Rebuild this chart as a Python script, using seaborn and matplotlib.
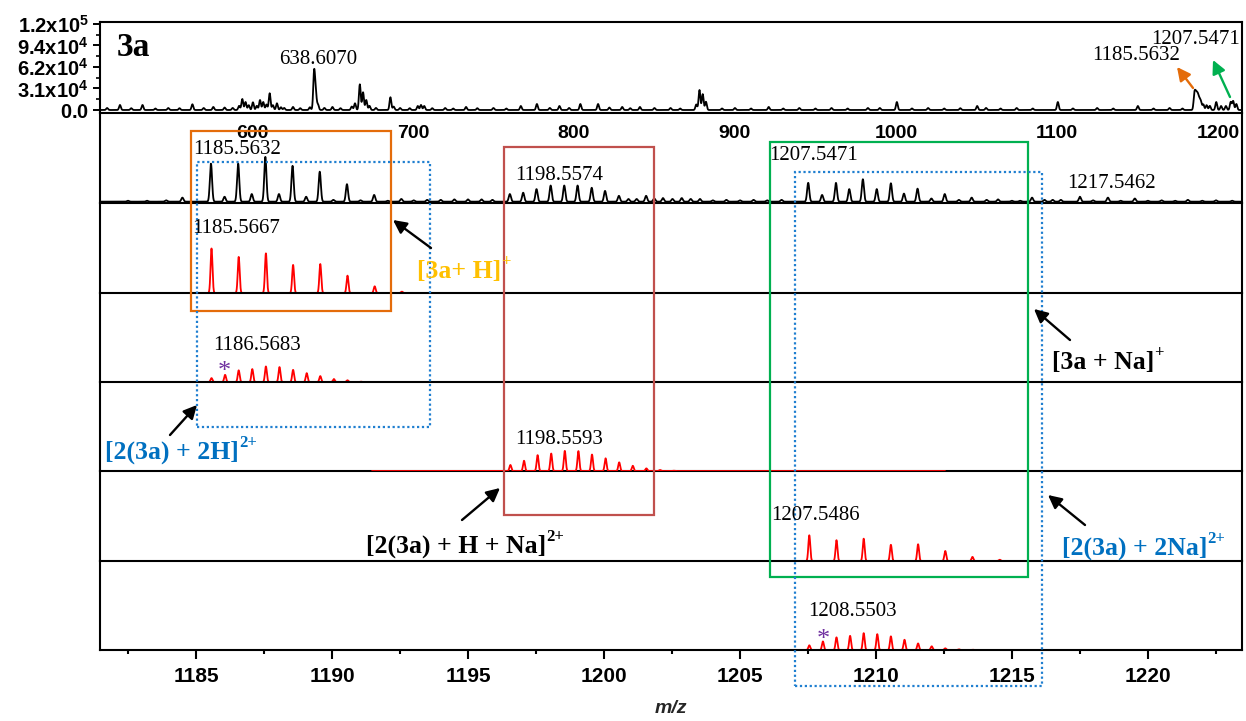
import numpy as np
import pandas as pd
import matplotlib
matplotlib.use("Agg")
import matplotlib.pyplot as plt
import seaborn as sns
from matplotlib.patches import Rectangle
from matplotlib.text import Annotation
from matplotlib.transforms import blended_transform_factory
from matplotlib.ticker import MultipleLocator, AutoMinorLocator, FixedLocator, FixedFormatter

# ---------------- data ----------------
# full-range spectrum (m/z, counts)
full_mz = [510, 518, 525, 532, 540, 548, 555, 563, 570, 576, 583, 588, 592, 594, 596, 598,
           600.6, 603, 605, 607, 609, 611, 613, 615.5, 618, 620, 625.5, 630, 636, 638.6,
           639.6, 641, 645, 650, 655, 662, 664, 667, 669, 671, 673, 677, 686, 688, 692,
           698, 703, 705, 707, 712, 720, 725, 733, 740, 750, 758, 767, 777, 785, 791, 797,
           804, 815, 822, 830, 835, 841, 850, 860, 866, 876, 878, 880, 882, 892, 900, 910,
           921, 930, 940, 950, 960, 970, 982.6, 990, 1000.6, 1010, 1020, 1030, 1040,
           1050.5, 1056, 1065, 1075, 1085, 1100.6, 1110, 1125, 1135, 1150.3, 1160, 1170,
           1178, 1185.5, 1186.5, 1187.5, 1188.5, 1189.5, 1191, 1193, 1195, 1199, 1202,
           1205, 1208, 1209.5, 1211.5]
full_int = [2900, 7300, 2600, 7300, 2200, 2900, 2600, 8300, 2900, 4400, 3600, 3000, 6000,
            16000, 11600, 7000, 11200, 6000, 14500, 11600, 8000, 24300, 7000, 9700, 4000,
            3000, 4400, 2600, 4000, 54300, 24700, 8000, 3000, 4400, 2600, 5000, 9700, 37300,
            25700, 14500, 6000, 3000, 18500, 5000, 2900, 2600, 5800, 7300, 5800, 2600, 2900,
            2200, 4400, 2600, 2900, 2200, 5800, 8700, 3000, 5800, 3000, 8700, 8700, 3600,
            4400, 2600, 4400, 2900, 2900, 2200, 8000, 29000, 23000, 12000, 2200, 2900, 2200,
            4400, 2200, 2900, 2200, 2900, 2200, 2900, 2900, 11600, 2200, 2900, 2200, 2600,
            5800, 3000, 2200, 2900, 2200, 11600, 2200, 2900, 2200, 5800, 2200, 2900, 2200,
            23700, 20000, 19000, 13000, 11000, 8000, 7000, 6000, 11600, 5800, 5800, 11600,
            13000, 8700]
full_yticks = [0, 31250, 62500, 93750, 125000]
full_ytick_labels = [r'$0.0$', r'$3.1x10^{4}$', r'$6.2x10^{4}$', r'$9.4x10^{4}$', r'$1.2x10^{5}$']
full_xticks = [600, 700, 800, 900, 1000, 1100, 1200]

# experimental zoom spectrum (m/z, relative intensity)
exp_mz = [1182.5, 1183.2, 1183.9, 1184.5, 1185.55, 1186.05, 1186.55, 1187.05, 1187.55, 1188.05,
          1188.55, 1189.05, 1189.55, 1190.05, 1190.55, 1191.05, 1191.55, 1192.05, 1192.55,
          1193.0, 1193.5, 1194.0, 1194.5, 1195.0, 1195.5, 1195.9, 1196.54, 1197.03, 1197.52,
          1198.04, 1198.54, 1199.03, 1199.55, 1200.04, 1200.55, 1200.9, 1201.2, 1201.55,
          1201.85, 1202.17, 1202.52, 1202.86, 1203.19, 1203.53, 1204.0, 1204.5, 1205.0,
          1205.5, 1206.0, 1206.53, 1207.51, 1208.02, 1208.53, 1209.02, 1209.52, 1210.03,
          1210.55, 1211.03, 1211.53, 1212.04, 1212.53, 1213.05, 1213.52, 1214.07, 1214.49,
          1215.0, 1215.3, 1215.74, 1216.2, 1216.5, 1216.8, 1217.5, 1217.98, 1218.53, 1219.0,
          1219.52, 1220.0, 1220.5, 1221.0, 1221.47, 1222.0, 1222.5, 1223.1]
exp_rel = [2, 2, 3, 9, 85, 11, 85, 17, 100, 17, 80, 11, 67, 4, 39, 3, 15, 2, 6,
           3, 4, 4, 5, 5, 5, 4, 17, 20, 28, 36, 36, 36, 31, 24, 13, 6, 6, 13,
           7, 8, 6, 8, 6, 6, 3, 4, 3, 4, 3, 4, 42, 15, 42, 28, 50, 28, 41, 18, 29,
           7, 17, 4, 9, 4, 5, 2, 2, 9, 4, 4, 4, 11, 3, 9, 2, 7, 2, 3, 2, 4, 2, 3, 2]

# simulated isotope patterns (relative intensity)
simB_mz = [1185.57, 1186.57, 1187.57, 1188.57, 1189.57, 1190.57, 1191.57, 1192.57]
simB_rel = [100, 81, 89, 63, 65, 39, 15, 3]
simC_mz = [1185.57, 1186.07, 1186.57, 1187.07, 1187.57, 1188.07, 1188.57, 1189.07,
           1189.57, 1190.07, 1190.57, 1191.07]
simC_rel = [25, 46, 75, 83, 100, 96, 78, 57, 38, 19, 11, 2]
simD_mz = [1196.56, 1197.06, 1197.56, 1198.06, 1198.56, 1199.06, 1199.56, 1200.06,
           1200.56, 1201.06, 1201.56, 1202.06, 1202.56]
simD_rel = [30, 51, 79, 87, 100, 99, 82, 63, 43, 26, 13, 5, 1.5]
simE_mz = [1207.55, 1208.55, 1209.55, 1210.55, 1211.55, 1212.55, 1213.55, 1214.55]
simE_rel = [100, 81, 87, 63, 65, 39, 16, 5]
simF_mz = [1207.55, 1208.05, 1208.55, 1209.05, 1209.55, 1210.05, 1210.55, 1211.05,
           1211.55, 1212.05, 1212.55, 1213.05, 1213.55]
simF_rel = [28, 51, 75, 84, 100, 94, 81, 61, 39, 22, 10, 4, 2]

zoom_xticks_major = 5
zoom_xticks_minor = 2.5

# ---------------- style ----------------
sns.set_style("ticks")
plt.rcParams['font.family'] = ['Liberation Sans', 'DejaVu Sans']
plt.rcParams['mathtext.fontset'] = 'custom'
plt.rcParams['mathtext.rm'] = 'Liberation Sans:bold'
plt.rcParams['mathtext.it'] = 'Liberation Sans:bold'
plt.rcParams['mathtext.bf'] = 'Liberation Sans:bold'
plt.rcParams['axes.edgecolor'] = 'black'
plt.rcParams['xtick.color'] = 'black'
plt.rcParams['ytick.color'] = 'black'
SERIF = ['Liberation Serif', 'DejaVu Serif']

W, H = 1246, 721
fig = plt.figure(figsize=(W / 100, H / 100), dpi=100)
fig.patch.set_facecolor('white')

L, R = 100 / W, 1242 / W


def axrect(top_px, bot_px):
    return [L, 1 - bot_px / H, R - L, (bot_px - top_px) / H]


def profile(grid, centers, heights, sigma):
    c = np.asarray(centers, float)[:, None]
    h = np.asarray(heights, float)[:, None]
    return (h * np.exp(-0.5 * ((grid[None, :] - c) / sigma) ** 2)).sum(axis=0)


def fxy(x, y):
    return (x / W, 1 - y / H)


# ---------------- full spectrum ----------------
ax0 = fig.add_axes(axrect(22, 113))
g0 = np.arange(505, 1216, 0.1)
df0 = pd.DataFrame({'mz': g0, 'I': profile(g0, full_mz, full_int, 0.55)})
sns.lineplot(data=df0, x='mz', y='I', ax=ax0, color='black', linewidth=1.3,
             estimator=None, sort=False, legend=False)
ax0.set_xlim(505.6, 1215)
ax0.set_ylim(-4360, 127900)
ax0.set_xlabel('')
ax0.set_ylabel('')
ax0.yaxis.set_major_locator(FixedLocator(full_yticks))
ax0.yaxis.set_major_formatter(FixedFormatter(full_ytick_labels))
ax0.yaxis.set_minor_locator(AutoMinorLocator(2))
ax0.xaxis.set_major_locator(FixedLocator(full_xticks))
ax0.tick_params(axis='y', which='major', length=5, width=1.4, pad=3, labelsize=14.5)
ax0.tick_params(axis='y', which='minor', length=3, width=1.2)
ax0.tick_params(axis='x', which='major', length=0, pad=8.5, labelsize=14)
for lab in ax0.get_xticklabels():
    lab.set_fontweight('bold')
for sp in ax0.spines.values():
    sp.set_linewidth(1.5)
    sp.set_visible(True)

# ---------------- zoom panels ----------------
bounds = [113, 203, 293, 382, 471, 561, 650]
axes = [fig.add_axes(axrect(bounds[i], bounds[i + 1])) for i in range(6)]
g = np.arange(1181.4, 1223.6, 0.004)
XL = (1181.47, 1223.46)

# panel A: experimental
dfA = pd.DataFrame({'mz': g, 'I': profile(g, exp_mz, exp_rel, 0.04)})
sns.lineplot(data=dfA, x='mz', y='I', ax=axes[0], color='black', linewidth=1.3,
             estimator=None, sort=False, legend=False, zorder=3)
axes[0].set_ylim(-3, 198)

sims = [(simB_mz, simB_rel, 202), (simC_mz, simC_rel, 573), (simD_mz, simD_rel, 443),
        (simE_mz, simE_rel, 350), (simF_mz, simF_rel, 529)]
for k, (mz, rel, top) in enumerate(sims):
    ax = axes[k + 1]
    if k == 2:
        gg = g[(g >= 1191.47) & (g <= 1212.54)]
        z = 3
    else:
        gg = g[(g >= min(mz) - 0.25) & (g <= max(mz) + 0.25)]
        z = 2
    df = pd.DataFrame({'mz': gg, 'I': profile(gg, mz, rel, 0.035)})
    sns.lineplot(data=df, x='mz', y='I', ax=ax, color='#FF0000', linewidth=1.3,
                 estimator=None, sort=False, legend=False, zorder=z)
    ax.set_ylim(0, top)

for i, ax in enumerate(axes):
    ax.set_xlim(*XL)
    ax.set_xlabel('')
    ax.set_ylabel('')
    ax.set_yticks([])
    ax.spines['top'].set_visible(False)
    for s in ['left', 'right', 'bottom']:
        ax.spines[s].set_visible(True)
        ax.spines[s].set_linewidth(1.5)
        ax.spines[s].set_zorder(2.5)
    ax.patch.set_alpha(0)
    if i < 5:
        ax.set_xticks([])

axF = axes[5]
axF.xaxis.set_major_locator(MultipleLocator(zoom_xticks_major))
axF.xaxis.set_minor_locator(MultipleLocator(zoom_xticks_minor))
axF.tick_params(axis='x', which='major', length=6.5, width=1.5, pad=6, labelsize=15)
axF.tick_params(axis='x', which='minor', length=3.2, width=1.5)
for lab in axF.get_xticklabels():
    lab.set_fontweight('bold')
axF.set_xlabel('m/z', fontsize=14, fontweight='bold', fontstyle='italic', labelpad=10)

# ---------------- boxes ----------------
trans = blended_transform_factory(axF.transData, fig.transFigure)
boxes = [(1184.82, 1192.17, 131, 311, '#E46C0A', '-'),
         (1185.04, 1193.60, 162, 427, '#1F7FD0', (0, (1, 1.2))),
         (1196.32, 1201.84, 147, 515, '#C0504D', '-'),
         (1206.10, 1215.59, 142, 577, '#00B050', '-'),
         (1207.02, 1216.10, 172, 686, '#1F7FD0', (0, (1, 1.2)))]
for x0, x1, yt, yb, c, ls in boxes:
    r = Rectangle((x0, 1 - yb / H), x1 - x0, (yb - yt) / H, transform=trans,
                  fill=False, edgecolor=c, linewidth=1.6, linestyle=ls, zorder=5,
                  clip_on=False)
    fig.add_artist(r)

# ---------------- texts ----------------
def ftext(x, y, s, size=15, weight='normal', color='black', ha='center'):
    t = fig.text(*fxy(x, y), s, ha=ha, va='center', fontsize=size, fontweight=weight,
                 color=color, family=SERIF, zorder=6)
    return t


ftext(133, 48, '3a', size=24, weight='bold')
ftext(318, 60, '638.6070')
ftext(1196, 39, '1207.5471')
ftext(1136, 56, '1185.5632')
for x, y, s in [(237, 150, '1185.5632'), (559, 175, '1198.5574'), (814, 156, '1207.5471'),
                (1111, 184, '1217.5462'), (236, 228, '1185.5667'), (257, 346, '1186.5683'),
                (559, 440, '1198.5593'), (815, 515, '1207.5486'), (852, 611, '1208.5503')]:
    ftext(x, y, s)

for x, y in [(224, 372), (823, 640)]:
    ftext(x, y, '*', size=19, color='#7030A0')

labels = [(417, 271, '[3a+ H]', '+', '#FFC000'),
          (1052, 362, '[3a + Na]', '+', 'black'),
          (105, 452, '[2(3a) + 2H]', '2+', '#0070C0'),
          (366, 546, '[2(3a) + H + Na]', '2+', 'black'),
          (1062, 548, '[2(3a) + 2Na]', '2+', '#0070C0')]
for x, y, main, sup, c in labels:
    t = ftext(x, y, main, size=18.5, weight='bold', color=c, ha='left')
    a = Annotation(sup, xy=(1.0, 0.55), xycoords=t, ha='left', va='bottom', fontsize=12,
                   fontweight='bold', color=c, family=SERIF, zorder=6)
    fig.add_artist(a)

arrows = [((431, 248), (393, 220), 'black'),
          ((1070, 340), (1034, 309), 'black'),
          ((170, 435), (197, 405), 'black'),
          ((462, 520), (500, 488), 'black'),
          ((1085, 525), (1048, 495), 'black'),
          ((1193, 88), (1177, 67), '#E46C0A'),
          ((1230, 97), (1213, 60), '#00B050')]
for tail, head, c in arrows:
    a = Annotation('', xy=fxy(*head), xytext=fxy(*tail), xycoords='figure fraction',
                   textcoords='figure fraction',
                   arrowprops=dict(arrowstyle='-|>', color=c, lw=1.7, mutation_scale=20,
                                   shrinkA=0, shrinkB=0), zorder=6)
    fig.add_artist(a)

fig.savefig('out.png', dpi=100, facecolor='white')
